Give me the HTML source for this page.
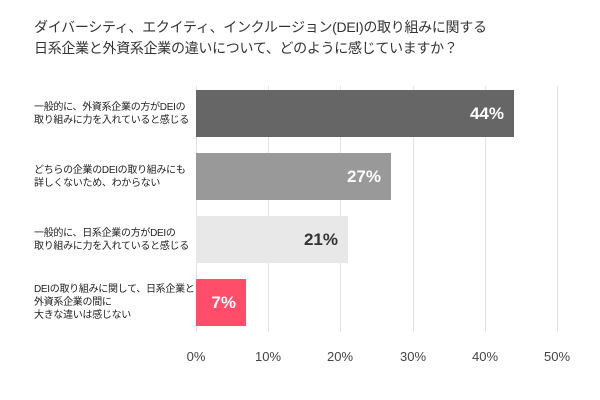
<!DOCTYPE html>
<html><head><meta charset="utf-8"><style>
body{margin:0;background:#fff;font-family:"Liberation Sans","Noto Sans CJK JP",sans-serif;}
.c{position:relative;width:600px;height:400px;overflow:hidden;}
.t{position:absolute;left:34px;top:17px;font-size:14px;line-height:21px;color:#333;letter-spacing:-0.3px;}
.g{position:absolute;top:86px;width:1px;height:246px;background:#e2e2e2;}
.b{position:absolute;left:196px;height:47px;}
.v{position:absolute;right:10px;top:0;line-height:47px;font-size:17px;font-weight:bold;}
.l{position:absolute;left:34px;font-size:10px;line-height:13px;color:#222;letter-spacing:-0.3px;}
.x{position:absolute;top:349px;font-size:13px;color:#444;width:40px;text-align:center;}
</style></head><body><div class="c">
<div class="t">ダイバーシティ、エクイティ、インクルージョン(DEI)の取り組みに関する<br>日系企業と外資系企業の違いについて、どのように感じていますか？</div>
<div class="g" style="left:196px"></div><div class="g" style="left:268px"></div><div class="g" style="left:340px"></div><div class="g" style="left:413px"></div><div class="g" style="left:485px"></div><div class="g" style="left:557px"></div>
<div class="b" style="top:90px;width:318px;background:#666"><span class="v" style="color:#fff">44%</span></div>
<div class="b" style="top:153px;width:195px;background:#999"><span class="v" style="color:#fff">27%</span></div>
<div class="b" style="top:216px;width:152px;background:#e8e8e8"><span class="v" style="color:#333">21%</span></div>
<div class="b" style="top:279px;width:50px;background:#ff4d6a"><span class="v" style="color:#fff">7%</span></div>
<div class="l" style="top:101px">一般的に、外資系企業の方がDEIの<br>取り組みに力を入れていると感じる</div>
<div class="l" style="top:164px">どちらの企業のDEIの取り組みにも<br>詳しくないため、わからない</div>
<div class="l" style="top:227px">一般的に、日系企業の方がDEIの<br>取り組みに力を入れていると感じる</div>
<div class="l" style="top:283px">DEIの取り組みに関して、日系企業と<br>外資系企業の間に<br>大きな違いは感じない</div>
<div class="x" style="left:176px">0%</div><div class="x" style="left:248px">10%</div><div class="x" style="left:320px">20%</div><div class="x" style="left:393px">30%</div><div class="x" style="left:465px">40%</div><div class="x" style="left:537px">50%</div>
</div></body></html>
